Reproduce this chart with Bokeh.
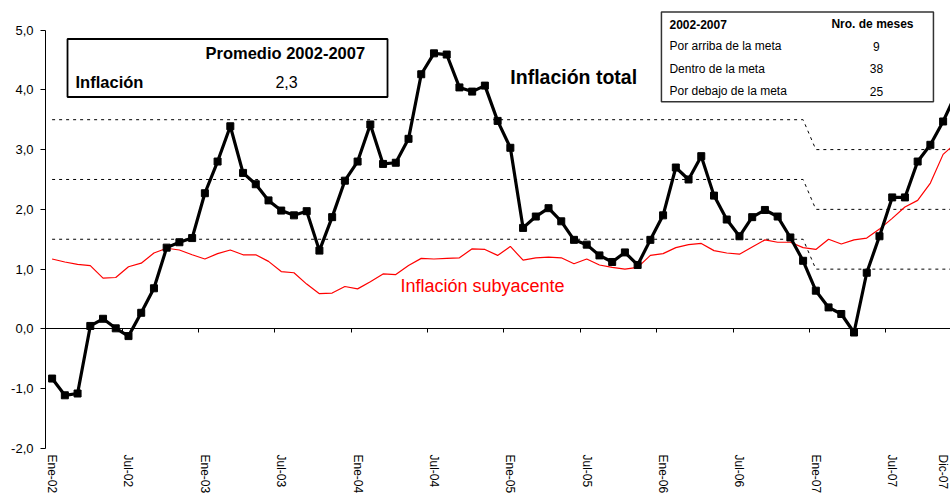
import math
from bokeh.plotting import figure
from bokeh.models import (ColumnDataSource, LinearAxis, FixedTicker, Range1d,
                          BoxAnnotation, Label)
from bokeh.embed import file_html
from bokeh.resources import INLINE

# ---------------- data ----------------
meses_abrev = ["Ene", "Feb", "Mar", "Abr", "May", "Jun",
               "Jul", "Ago", "Sep", "Oct", "Nov", "Dic"]
anios = ["02", "03", "04", "05", "06", "07"]
meses = [f"{m}-{a}" for a in anios for m in meses_abrev]

inflacion_total = [
    -0.83, -1.11, -1.08, 0.05, 0.17, 0.01, -0.12, 0.27, 0.68, 1.36, 1.45, 1.52,
    2.27, 2.80, 3.39, 2.61, 2.42, 2.15, 1.98, 1.90, 1.97, 1.31, 1.87, 2.48,
    2.80, 3.42, 2.76, 2.78, 3.18, 4.26, 4.61, 4.59, 4.04, 3.97, 4.07, 3.48,
    3.03, 1.69, 1.88, 2.02, 1.80, 1.49, 1.41, 1.23, 1.12, 1.28, 1.07, 1.49,
    1.90, 2.70, 2.50, 2.89, 2.23, 1.83, 1.55, 1.87, 1.99, 1.88, 1.53, 1.14,
    0.64, 0.36, 0.25, -0.06, 0.94, 1.55, 2.20, 2.20, 2.80, 3.08, 3.47, 3.93]

inflacion_subyacente = [
    1.17, 1.12, 1.08, 1.06, 0.85, 0.86, 1.04, 1.10, 1.27, 1.35, 1.32, 1.24,
    1.17, 1.26, 1.32, 1.24, 1.24, 1.13, 0.96, 0.94, 0.75, 0.59, 0.60, 0.71,
    0.67, 0.79, 0.92, 0.91, 1.06, 1.18, 1.17, 1.18, 1.19, 1.34, 1.33, 1.23,
    1.38, 1.15, 1.19, 1.20, 1.19, 1.09, 1.17, 1.07, 1.03, 1.00, 1.03, 1.23,
    1.26, 1.36, 1.41, 1.43, 1.31, 1.27, 1.25, 1.37, 1.49, 1.45, 1.45, 1.36,
    1.33, 1.50, 1.42, 1.49, 1.52, 1.67, 1.85, 2.04, 2.15, 2.44, 2.92, 3.11]

# inflation target band (2002-2006: 2.5 +/- 1; 2007: 2.0 +/- 1)
meta_superior = [3.5] * 60 + [3.0] * 12
meta_central = [2.5] * 60 + [2.0] * 12
meta_inferior = [1.5] * 60 + [1.0] * 12

promedio_periodo = "2002-2007"
promedio_inflacion = "2,3"

tabla_titulo = ["2002-2007", "Nro. de meses"]
tabla_filas = ["Por arriba de la meta", "Dentro de la meta", "Por debajo de la meta"]
tabla_meses = ["9", "38", "25"]

y_ticks = [-2, -1, 0, 1, 2, 3, 4, 5]
y_labels = ["-2,0", "-1,0", "0,0", "1,0", "2,0", "3,0", "4,0", "5,0"]

# ---------------- figure ----------------
FONT = "Liberation Sans"
x = list(range(len(meses)))
src = ColumnDataSource(dict(x=x, total=inflacion_total, sub=inflacion_subyacente,
                            ms=meta_superior, mc=meta_central, mi=meta_inferior))

p = figure(width=950, height=497, output_backend="svg", toolbar_location=None,
           x_range=Range1d(-0.52, 70.58), y_range=Range1d(-2.0, 5.36),
           x_axis_type=None, y_axis_type=None,
           min_border_left=45, min_border_right=0, min_border_top=8,
           min_border_bottom=49)
p.outline_line_color = None
p.background_fill_color = "white"
p.border_fill_color = "white"

# y axis
yaxis = LinearAxis(ticker=FixedTicker(ticks=y_ticks), bounds=(-2, 5),
                   major_label_overrides={t: l for t, l in zip(y_ticks, y_labels)},
                   major_tick_in=0, major_tick_out=5, major_label_standoff=7,
                   axis_line_color="black", major_tick_line_color="black",
                   major_label_text_font=FONT, major_label_text_font_size="13px",
                   major_label_text_color="black")
p.add_layout(yaxis, "left")

# x axis labels (bottom)
label_pos = x[0::6] + [70]
label_txt = meses[0::6] + [meses[-1]]
xlab = LinearAxis(ticker=FixedTicker(ticks=label_pos),
                  major_label_overrides={t: l for t, l in zip(label_pos, label_txt)},
                  major_label_orientation="vertical",
                  axis_line_color=None, major_tick_line_color=None,
                  major_tick_in=0, major_tick_out=0, major_label_standoff=6,
                  major_label_text_font=FONT, major_label_text_font_size="12px",
                  major_label_text_color="black")
p.add_layout(xlab, "below")

# x axis line + tick marks at y = 0 (between categories)
tick_bounds = [i - 0.5 for i in range(6, len(meses), 6)]
xtick = LinearAxis(fixed_location=0, ticker=FixedTicker(ticks=tick_bounds),
                   major_label_overrides={t: "" for t in tick_bounds},
                   major_tick_in=0, major_tick_out=4,
                   axis_line_color="black", major_tick_line_color="black")
p.add_layout(xtick, "below")

# target band
for col in ("ms", "mc", "mi"):
    p.line("x", col, source=src, line_color="black", line_width=1, line_dash="3 4")

# series
p.line("x", "sub", source=src, line_color="#FF0000", line_width=1.2)
p.line("x", "total", source=src, line_color="black", line_width=3.2)
p.scatter("x", "total", source=src, marker="square", size=7,
          fill_color="black", line_color="black")

# ---------------- boxes & texts ----------------
box1 = BoxAnnotation(left=1.21, right=26.35, top=4.85, bottom=3.88,
                     fill_color="white", fill_alpha=1, line_color="black",
                     line_width=1.8, line_alpha=1)
box2 = BoxAnnotation(left=47.87, right=69.24, top=5.30, bottom=3.80,
                     fill_color="white", fill_alpha=1, line_color="#333333",
                     line_width=1.5, line_alpha=1)
p.add_layout(box1)
p.add_layout(box2)


def add_label(xv, yv, text, size, bold=False, color="black", align="left"):
    p.add_layout(Label(x=xv, y=yv, text=text, text_font=FONT,
                       text_font_size=f"{size}px",
                       text_font_style="bold" if bold else "normal",
                       text_color=color, text_align=align,
                       text_baseline="middle"))


add_label(12.05, 4.615, f"Promedio {promedio_periodo}", 16.5, bold=True)
add_label(1.84, 4.13, "Inflación", 16.5, bold=True)
add_label(18.42, 4.13, promedio_inflacion, 16, align="center")

add_label(36.0, 4.21, "Inflación total", 19.5, bold=True)
add_label(27.37, 0.72, "Inflación subyacente", 18, color="#FF0000")

add_label(48.5, 5.10, tabla_titulo[0], 12, bold=True)
add_label(64.45, 5.10, tabla_titulo[1], 12, bold=True, align="center")
row_y = [4.73, 4.35, 3.98]
for ry, fila, n in zip(row_y, tabla_filas, tabla_meses):
    add_label(48.5, ry, fila, 12)
    add_label(64.76, ry, n, 12, align="center")

open("out.html", "w").write(file_html(p, INLINE))
